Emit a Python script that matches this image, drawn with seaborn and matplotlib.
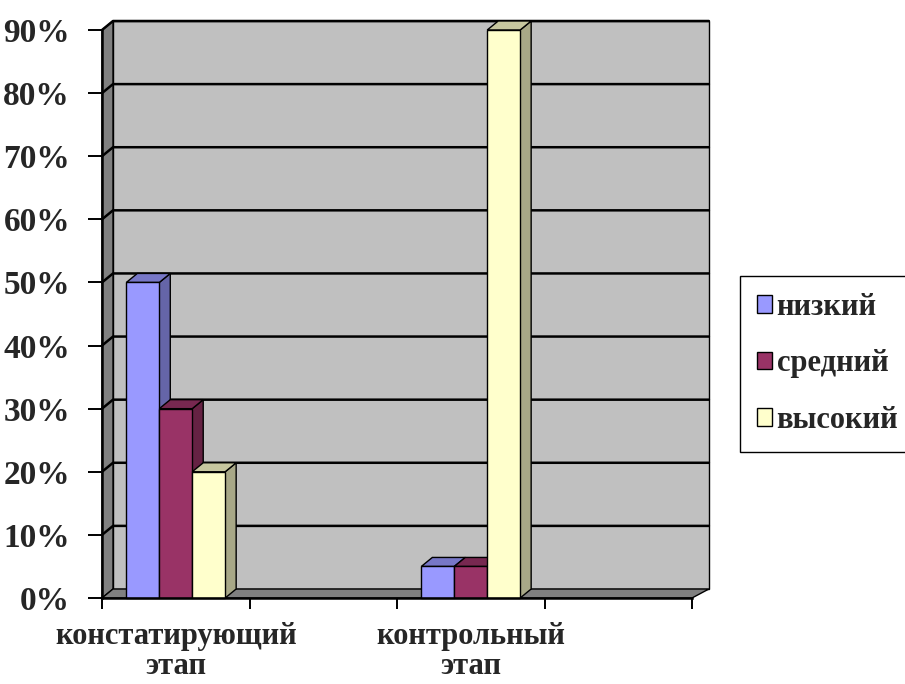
import numpy as np
import pandas as pd
import matplotlib
matplotlib.use("Agg")
import matplotlib.pyplot as plt
import matplotlib.colors as mcolors
from matplotlib.patches import Polygon, Rectangle
from matplotlib.lines import Line2D
import seaborn as sns

# data
stages = ["констатирующий\nэтап", "контрольный\nэтап"]
levels = ["низкий", "средний", "высокий"]
low_vals = [50, 5]
mid_vals = [30, 5]
high_vals = [20, 90]
colors = ["#9999ff", "#993366", "#ffffcc"]

# Excel leaves an empty slot after each category
slot_order = [stages[0], "_gap1", stages[1], "_gap2"]

df = pd.DataFrame({
    "stage": stages * 3,
    "level": [levels[0]] * 2 + [levels[1]] * 2 + [levels[2]] * 2,
    "value": low_vals + mid_vals + high_vals,
})

sns.set_style("white")
plt.rcParams["font.family"] = ["Liberation Serif", "DejaVu Serif"]
plt.rcParams["font.weight"] = "bold"

fig = plt.figure(figsize=(9.05, 6.84), dpi=100)
ax = fig.add_axes([102 / 905, 1 - 598 / 684, 590 / 905, 568 / 684])

sns.barplot(data=df, x="stage", y="value", hue="level", order=slot_order,
            hue_order=levels, palette=colors, width=0.67, ax=ax,
            edgecolor="black", linewidth=1, saturation=1, legend=True)

ax.set_xlim(-0.5, 3.5)
ax.set_ylim(0, 90)
ax.set_facecolor("none")

# depth offset in data units (11 px right, 9 px up)
inv = ax.transData.inverted()
p0 = ax.transData.transform((0, 0))
p1 = inv.transform((p0[0] + 11, p0[1] + 9))
dx, dy = p1[0], p1[1]

wall_kw = dict(clip_on=False, edgecolor="black", linewidth=1)
# back wall
ax.add_patch(Rectangle((-0.5 + dx, dy), 4.04, 90, facecolor="#c0c0c0", zorder=0, **wall_kw))
# left wall
ax.add_patch(Polygon([(-0.5, 0), (-0.5, 90), (-0.5 + dx, 90 + dy), (-0.5 + dx, dy)],
                     facecolor="#808080", zorder=0.5, **wall_kw))
# floor
ax.add_patch(Polygon([(-0.5, 0), (3.5, 0), (3.54 + dx, dy), (-0.5 + dx, dy)],
                     facecolor="#808080", zorder=0.5, **wall_kw))
# gridlines on the back wall
for yv in range(10, 91, 10):
    ax.add_line(Line2D([-0.5, -0.5 + dx, 3.54 + dx], [yv, yv + dy, yv + dy],
                       color="black", linewidth=1.8, clip_on=False, zorder=0.8))


def shade(c, f):
    r, g, b = mcolors.to_rgb(c)
    return (r * f, g * f, b * f)


# 3D faces for bars, drawn left to right
bars = sorted([p for p in ax.patches if isinstance(p, Rectangle) and p.get_zorder() != 0
               and p.get_height() > 0 and p.get_width() < 1], key=lambda p: p.get_x())
z = 2
for b in bars:
    x0, w, h = b.get_x(), b.get_width(), b.get_height()
    x1 = x0 + w
    fc = b.get_facecolor()
    side = Polygon([(x1, 0), (x1, h), (x1 + dx, h + dy), (x1 + dx, dy)],
                   facecolor=shade(fc, 0.66), edgecolor="black", linewidth=1,
                   clip_on=False, zorder=z)
    top = Polygon([(x0, h), (x1, h), (x1 + dx, h + dy), (x0 + dx, h + dy)],
                  facecolor=shade(fc, 0.78), edgecolor="black", linewidth=1,
                  clip_on=False, zorder=z)
    ax.add_patch(side)
    ax.add_patch(top)
    b.set_zorder(z + 0.5)
    b.set_clip_on(False)
    z += 1

# spines
sns.despine(ax=ax, top=True, right=True)
for s in ["left", "bottom"]:
    ax.spines[s].set_color("black")
    ax.spines[s].set_linewidth(1.8)
    ax.spines[s].set_zorder(50)

# y ticks
ax.set_yticks(range(0, 91, 10))
ax.set_yticklabels([f"{v}%" for v in range(0, 91, 10)], fontsize=24, fontweight="bold")
ax.tick_params(axis="y", direction="out", length=10, width=1.4, color="black", pad=13, left=True)

# x ticks at slot borders, labels at category centres
ax.set_xticks([-0.5, 0.5, 1.5, 2.5, 3.5])
ax.set_xticklabels([])
ax.tick_params(axis="x", which="major", direction="out", length=8, width=1.4, color="black", bottom=True)
ax.set_xticks([0, 2], minor=True)
ax.set_xticklabels(stages, minor=True, fontsize=22, fontweight="bold", linespacing=1.05)
ax.tick_params(axis="x", which="minor", length=0, pad=17)
ax.set_xlabel("")
ax.set_ylabel("")

# legend
handles, labels = ax.get_legend_handles_labels()
ax.legend_.remove()
leg = fig.legend(handles, labels, loc="center left", bbox_to_anchor=(740 / 905, 0.468),
                 frameon=True, fancybox=False, edgecolor="black", framealpha=1,
                 prop={"family": "Liberation Serif", "weight": "bold", "size": 22},
                 handlelength=0.5, handleheight=0.5, handletextpad=0.15,
                 labelspacing=0.9, borderpad=0.55, borderaxespad=0)
leg.get_frame().set_linewidth(1)
for h in leg.legend_handles:
    h.set_edgecolor("black")
    h.set_linewidth(1)

fig.savefig("out.png", dpi=100)
